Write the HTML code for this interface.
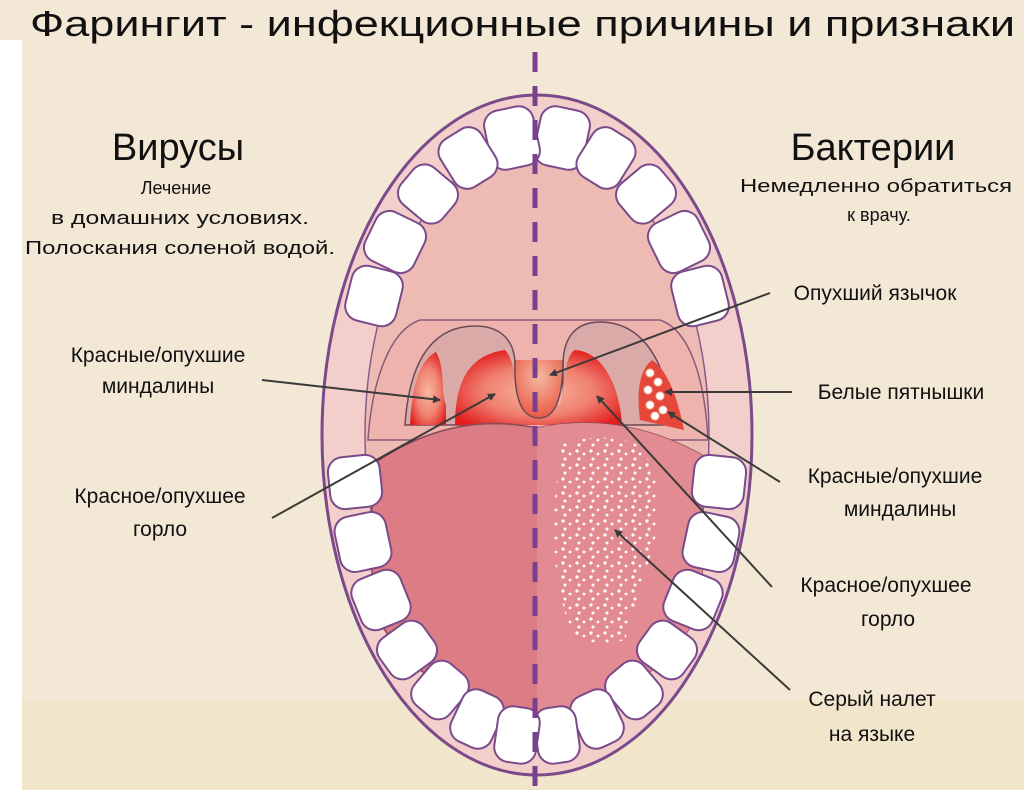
<!DOCTYPE html>
<html><head><meta charset="utf-8"><style>
html,body{margin:0;padding:0;background:#fff}
svg{display:block}
text{font-family:"Liberation Sans","DejaVu Sans",sans-serif;fill:#111}
</style></head><body>
<svg width="1024" height="790" viewBox="0 0 1024 790" xmlns="http://www.w3.org/2000/svg">
<defs>
<radialGradient id="red" cx="0.5" cy="0.55" r="0.6"><stop offset="0" stop-color="#f7b9a0"/><stop offset="0.55" stop-color="#f08070"/><stop offset="1" stop-color="#e21e1e"/></radialGradient>
<radialGradient id="uv" cx="0.5" cy="0.3" r="0.7"><stop offset="0" stop-color="#f6b8a2"/><stop offset="1" stop-color="#e95a45"/></radialGradient>
<pattern id="dots" width="14" height="14" patternUnits="userSpaceOnUse">
<circle cx="3" cy="3" r="1.6" fill="#fff"/><circle cx="10" cy="6" r="1.4" fill="#fff"/><circle cx="5" cy="11" r="1.5" fill="#fff"/>
</pattern>
<marker id="ah" markerWidth="8" markerHeight="8" refX="7" refY="4" orient="auto" markerUnits="userSpaceOnUse"><path d="M0,0 L8,4 L0,8 Z" fill="#3a3a3a"/></marker>
</defs>
<rect x="0" y="0" width="1024" height="790" fill="#f2e8d5"/>
<rect x="0" y="40" width="22" height="750" fill="#fff"/>
<rect x="22" y="700" width="1002" height="90" fill="#f1e6cb"/>

<text x="30" y="36" font-size="36" textLength="985" lengthAdjust="spacingAndGlyphs">Фарингит - инфекционные причины и признаки</text>

<!-- mouth -->
<ellipse cx="537" cy="435" rx="215" ry="340" fill="#f3cfcb" stroke="#7a4a8a" stroke-width="3"/>
<ellipse cx="537" cy="435" rx="172" ry="290" fill="#eebab4" stroke="#8a5a8a" stroke-width="1.5"/>
<!-- throat back -->
<path d="M368 440 C372 380 390 330 420 320 L660 320 C690 330 705 380 708 440 Z" fill="#eeb3ac" stroke="#8a5a7a" stroke-width="1.5"/>
<path d="M405 425 C410 350 440 326 475 326 C505 326 515 345 515 365 L515 425 Z" fill="#d9aaa8" stroke="#6a4a5a" stroke-width="1.5"/>
<path d="M672 425 C667 350 635 322 600 322 C570 322 563 345 563 365 L563 425 Z" fill="#d9aaa8" stroke="#6a4a5a" stroke-width="1.5"/>
<path d="M410 425 C412 385 420 360 436 352 C446 370 440 390 446 405 L446 425 Z" fill="url(#red)"/>
<path d="M455 425 C455 380 470 355 505 350 C515 360 515 385 520 405 L560 405 C565 380 565 355 575 350 C605 352 620 390 622 425 Z" fill="url(#red)"/>
<path d="M515 360 Q513 418 539 418 Q563 418 563 360 Z" fill="url(#uv)"/>
<path d="M515 360 Q513 418 539 418 Q563 418 563 360" fill="none" stroke="#6a4a5a" stroke-width="1.5"/>
<path d="M640 420 C636 390 640 370 652 360 C668 370 678 400 684 430 Z" fill="#e5483a"/>
<g fill="#fff" stroke="#f3c0a0" stroke-width="1">
<circle cx="650" cy="373" r="4"/><circle cx="658" cy="382" r="4"/><circle cx="648" cy="390" r="4"/><circle cx="660" cy="396" r="4"/><circle cx="650" cy="405" r="4"/><circle cx="663" cy="410" r="4"/><circle cx="655" cy="416" r="4"/>
</g>
<!-- tongue -->
<path d="M372 465 Q450 410 537 428 Q620 410 702 455 L702 610 Q640 710 537 715 Q430 710 372 610 Z" fill="#dc7d86" stroke="#8a4a5a" stroke-width="1.5"/>
<path d="M537 428 Q620 410 702 455 L702 610 Q640 710 537 715 Z" fill="#e28b93"/>
<path d="M560 445 Q600 430 640 445 Q665 480 655 540 Q640 590 625 640 Q590 650 570 630 Q548 560 555 500 Z" fill="url(#dots)"/>

<!-- teeth -->
<g fill="#fff" stroke="#7a4a8a" stroke-width="2">
<g transform="translate(562,138) rotate(12)"><rect x="-25" y="-30" width="50" height="60" rx="15"/></g>
<g transform="translate(512,138) rotate(-12)"><rect x="-25" y="-30" width="50" height="60" rx="15"/></g>
<g transform="translate(606,158) rotate(32)"><rect x="-24" y="-28" width="48" height="56" rx="15"/></g>
<g transform="translate(468,158) rotate(-32)"><rect x="-24" y="-28" width="48" height="56" rx="15"/></g>
<g transform="translate(646,194) rotate(50)"><rect x="-24" y="-27" width="48" height="54" rx="15"/></g>
<g transform="translate(428,194) rotate(-50)"><rect x="-24" y="-27" width="48" height="54" rx="15"/></g>
<g transform="translate(679,242) rotate(64)"><rect x="-27" y="-27" width="54" height="54" rx="15"/></g>
<g transform="translate(395,242) rotate(-64)"><rect x="-27" y="-27" width="54" height="54" rx="15"/></g>
<g transform="translate(700,296) rotate(76)"><rect x="-28" y="-26" width="56" height="52" rx="15"/></g>
<g transform="translate(374,296) rotate(-76)"><rect x="-28" y="-26" width="56" height="52" rx="15"/></g>

<g transform="translate(719,482) rotate(96)"><rect x="-26" y="-26" width="52" height="52" rx="15"/></g>
<g transform="translate(355,482) rotate(-96)"><rect x="-26" y="-26" width="52" height="52" rx="15"/></g>
<g transform="translate(711,542) rotate(102)"><rect x="-28" y="-26" width="56" height="52" rx="15"/></g>
<g transform="translate(363,542) rotate(-102)"><rect x="-28" y="-26" width="56" height="52" rx="15"/></g>
<g transform="translate(693,600) rotate(112)"><rect x="-27" y="-26" width="54" height="52" rx="15"/></g>
<g transform="translate(381,600) rotate(-112)"><rect x="-27" y="-26" width="54" height="52" rx="15"/></g>
<g transform="translate(667,650) rotate(126)"><rect x="-24" y="-27" width="48" height="54" rx="15"/></g>
<g transform="translate(407,650) rotate(-126)"><rect x="-24" y="-27" width="48" height="54" rx="15"/></g>
<g transform="translate(634,690) rotate(140)"><rect x="-23" y="-27" width="46" height="54" rx="15"/></g>
<g transform="translate(440,690) rotate(-140)"><rect x="-23" y="-27" width="46" height="54" rx="15"/></g>
<g transform="translate(597,719) rotate(155)"><rect x="-22" y="-28" width="44" height="56" rx="15"/></g>
<g transform="translate(477,719) rotate(-155)"><rect x="-22" y="-28" width="44" height="56" rx="15"/></g>
<g transform="translate(557,735) rotate(172)"><rect x="-21" y="-28" width="42" height="56" rx="15"/></g>
<g transform="translate(517,735) rotate(-172)"><rect x="-21" y="-28" width="42" height="56" rx="15"/></g>
</g>

<line x1="535" y1="52" x2="535" y2="790" stroke="#7a3f8f" stroke-width="5" stroke-dasharray="20 14"/>

<!-- connectors -->
<g stroke="#3a3a3a" stroke-width="2" fill="none">
<line x1="262" y1="380" x2="440" y2="400" marker-end="url(#ah)"/>
<line x1="272" y1="518" x2="495" y2="394" marker-end="url(#ah)"/>
<line x1="770" y1="293" x2="550" y2="375" marker-end="url(#ah)"/>
<line x1="792" y1="392" x2="665" y2="392" marker-end="url(#ah)"/>
<line x1="780" y1="482" x2="668" y2="412" marker-end="url(#ah)"/>
<line x1="772" y1="587" x2="597" y2="396" marker-end="url(#ah)"/>
<line x1="790" y1="690" x2="615" y2="530" marker-end="url(#ah)"/>
</g>

<!-- text -->
<g text-anchor="middle">
<text x="178" y="160" font-size="38">Вирусы</text>
<text x="873" y="160" font-size="38">Бактерии</text>
<text x="176" y="194" font-size="18">Лечение</text>
<text x="180" y="224" font-size="18" textLength="258" lengthAdjust="spacingAndGlyphs">в домашних условиях.</text>
<text x="180" y="254" font-size="18" textLength="310" lengthAdjust="spacingAndGlyphs">Полоскания соленой водой.</text>
<text x="876" y="192" font-size="18" textLength="272" lengthAdjust="spacingAndGlyphs">Немедленно обратиться</text>
<text x="879" y="221" font-size="18">к врачу.</text>
<text x="158" y="362" font-size="21">Красные/опухшие</text>
<text x="158" y="393" font-size="21">миндалины</text>
<text x="160" y="503" font-size="21">Красное/опухшее</text>
<text x="160" y="536" font-size="21">горло</text>
<text x="875" y="300" font-size="21">Опухший язычок</text>
<text x="901" y="399" font-size="21">Белые пятнышки</text>
<text x="895" y="483" font-size="21">Красные/опухшие</text>
<text x="900" y="516" font-size="21">миндалины</text>
<text x="886" y="592" font-size="21">Красное/опухшее</text>
<text x="888" y="626" font-size="21">горло</text>
<text x="872" y="706" font-size="21">Серый налет</text>
<text x="872" y="741" font-size="21">на языке</text>
</g>
</svg>
</body></html>
